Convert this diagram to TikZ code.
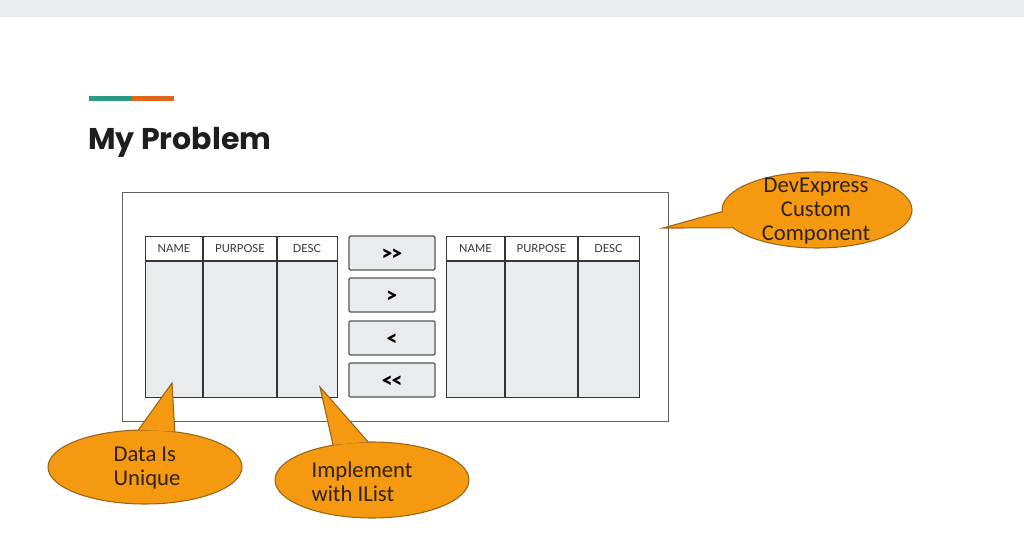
\documentclass[tikz,border=0pt]{standalone}
\usepackage{fontspec}
\setmainfont{Lato}
\newfontfamily\titlefont{Poppins}
\newfontfamily\callfont{Carlito}
\newfontfamily\btnfont{Lato Black}
\usetikzlibrary{shapes.geometric}
\definecolor{band}{HTML}{E8ECEC}
\definecolor{teal}{HTML}{2A9A86}
\definecolor{orng}{HTML}{E0651A}
\definecolor{cellfill}{HTML}{E8ECEE}
\definecolor{callfill}{HTML}{F59A10}
\definecolor{calldraw}{HTML}{9A6418}
\definecolor{calltext}{HTML}{2E2216}
\definecolor{ink}{HTML}{1E1E1E}
\tikzset{
  tablebox/.style={draw=ink!90, line width=1pt},
  hdr/.style={font=\fontsize{8.3}{10}\selectfont, text=ink!90},
  btnbox/.style={draw=ink!75, fill=cellfill, line width=0.9pt, rounded corners=1pt},
  btntxt/.style={font=\btnfont\fontsize{15}{16}\selectfont, text=black},
  callout/.style={fill=callfill, draw=calldraw, line width=0.8pt},
  calltxt/.style={font=\callfont\fontsize{17}{18}\selectfont, text=calltext, align=center},
  pointer/.style={draw=calldraw, line width=0.8pt},
}
\begin{document}
\begin{tikzpicture}[x=0.75pt,y=-0.75pt]
\useasboundingbox (0,0) rectangle (1024,541);
\fill[white] (0,0) rectangle (1024,541);
% top band
\fill[band] (0,0) rectangle (1024,17);
% accent bar
\fill[teal] (89,96) rectangle (132,101);
\fill[orng] (132,96) rectangle (174,101);
% title
\node[anchor=base west, inner sep=0, font=\titlefont\bfseries\fontsize{22.5}{28}\selectfont, text=ink] (title) at (88,150) {My Problem};
% outer component rectangle
\node[draw=ink!70, line width=0.8pt, minimum width=546*0.75pt, minimum height=229*0.75pt, inner sep=0, anchor=north west] (comp) at (122,192) {};
% left table
\fill[cellfill] (145,261) rectangle (337,397);
\fill[white] (145,236) rectangle (337,261);
\node[tablebox, minimum width=192*0.75pt, minimum height=161*0.75pt, inner sep=0, anchor=north west] (lt) at (145,236) {};
\draw[tablebox] (145,261) -- (337,261);
\draw[tablebox] (203,236) -- (203,397);
\draw[tablebox] (277,236) -- (277,397);
\node[hdr] (lname) at (174,248.5) {NAME};
\node[hdr] (lpurp) at (240,248.5) {PURPOSE};
\node[hdr] (ldesc) at (307,248.5) {DESC};
% right table
\fill[cellfill] (446,261) rectangle (639,397);
\fill[white] (446,236) rectangle (639,261);
\node[tablebox, minimum width=193*0.75pt, minimum height=161*0.75pt, inner sep=0, anchor=north west] (rt) at (446,236) {};
\draw[tablebox] (446,261) -- (639,261);
\draw[tablebox] (505,236) -- (505,397);
\draw[tablebox] (578,236) -- (578,397);
\node[hdr] (rname) at (475.5,248.5) {NAME};
\node[hdr] (rpurp) at (541.5,248.5) {PURPOSE};
\node[hdr] (rdesc) at (608.5,248.5) {DESC};
% buttons
\node[btnbox, minimum width=86*0.75pt, minimum height=34*0.75pt, inner sep=0] (b1) at (392,253) {};
\node[btnbox, minimum width=86*0.75pt, minimum height=34*0.75pt, inner sep=0] (b2) at (392,295) {};
\node[btnbox, minimum width=86*0.75pt, minimum height=34*0.75pt, inner sep=0] (b3) at (392,338) {};
\node[btnbox, minimum width=86*0.75pt, minimum height=34*0.75pt, inner sep=0] (b4) at (392,380) {};
\node[btntxt, inner sep=0] (t1) at ([yshift=-1.5pt]b1.center) {{>}\kern-1.5pt{>}};
\node[btntxt, inner sep=0] (t2) at ([yshift=-1.5pt]b2.center) {{>}};
\node[btntxt, inner sep=0] (t3) at ([yshift=-1.5pt]b3.center) {{<}};
\node[btntxt, inner sep=0] (t4) at ([yshift=-1.5pt]b4.center) {{<}\kern-1.5pt{<}};
% callout: DevExpress
\node[ellipse, minimum width=190*0.75pt, minimum height=76*0.75pt, inner sep=0] (dev) at (817,210) {};
\coordinate (devtip) at (663,228);
\fill[callfill] (devtip) -- (dev.181.5) -- (dev.192) -- cycle;
\path[callout] (817,210) ellipse [x radius=95, y radius=38];
\fill[callfill] (devtip) -- (dev.181.5) -- (dev.192) -- cycle;
\draw[pointer] (dev.181.5) -- (devtip) -- (dev.192);
\node[calltxt] (devtxt) at (816,211) {DevExpress\\Custom\\Component};
% callout: Data Is Unique
\node[ellipse, minimum width=194*0.75pt, minimum height=74*0.75pt, inner sep=0] (uniq) at (145,467) {};
\coordinate (uniqtip) at (172,383);
\fill[callfill] (uniqtip) -- (uniq.100) -- (uniq.50) -- cycle;
\path[callout] (145,467) ellipse [x radius=97, y radius=37];
\fill[callfill] (uniqtip) -- (uniq.100) -- (uniq.50) -- cycle;
\draw[pointer] (uniq.100) -- (uniqtip) -- (uniq.50);
\node[calltxt, align=left] (uniqtxt) at (147,468) {Data Is\\Unique};
% callout: Implement with IList
\node[ellipse, minimum width=194*0.75pt, minimum height=76*0.75pt, inner sep=0] (ilist) at (372,480) {};
\coordinate (ilisttip) at (320,387);
\fill[callfill] (ilisttip) -- (ilist.138) -- (ilist.96) -- cycle;
\path[callout] (372,480) ellipse [x radius=97, y radius=38];
\fill[callfill] (ilisttip) -- (ilist.138) -- (ilist.96) -- cycle;
\draw[pointer] (ilist.138) -- (ilisttip) -- (ilist.96);
\node[calltxt, align=left] (ilisttxt) at (362,482) {Implement\\with IList};
\end{tikzpicture}
\end{document}
